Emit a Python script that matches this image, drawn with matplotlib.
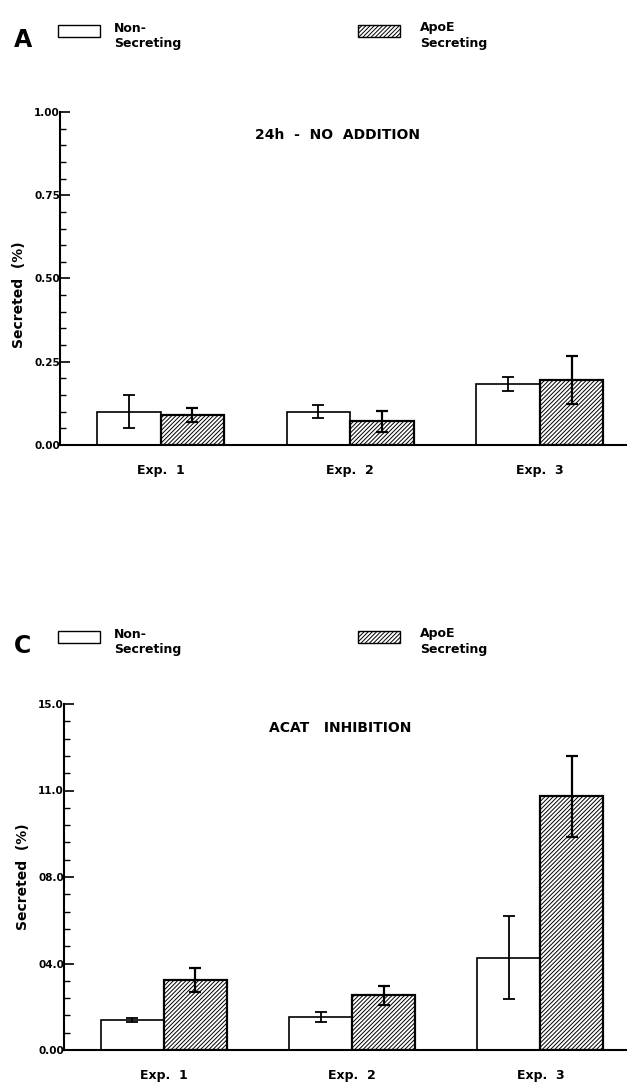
import numpy as np
import matplotlib
matplotlib.use('Agg')
import matplotlib.pyplot as plt
from matplotlib.patches import Rectangle
from matplotlib.ticker import MultipleLocator, FixedLocator

plt.rcParams['font.family'] = ['DejaVu Sans']
plt.rcParams['font.weight'] = 'bold'
plt.rcParams['hatch.linewidth'] = 0.7

# data
experiments = ['Exp.  1', 'Exp.  2', 'Exp.  3']

# panel A: 24h - no addition
a_non = [0.10, 0.10, 0.183]
a_non_err = [0.05, 0.02, 0.02]
a_apoe = [0.09, 0.071, 0.195]
a_apoe_err = [0.022, 0.032, 0.072]

# panel C: ACAT inhibition
c_non = [1.30, 1.43, 4.0]
c_non_err = [0.07, 0.22, 1.8]
c_apoe = [3.02, 2.37, 11.0]
c_apoe_err = [0.52, 0.40, 1.75]

a_ticks = [0, 0.25, 0.5, 0.75, 1.0]
a_ticklabels = ['0.00', '0.25', '0.50', '0.75', '1.00']
c_ticks = [0, 3.75, 7.5, 11.25, 15.0]
c_ticklabels = ['0.00', '04.0', '08.0', '11.0', '15.0']

W, H = 627, 1087
fig = plt.figure(figsize=(W / 100, H / 100), dpi=100)


def px(x0, y0, x1, y1):
    # pixel box (top-left origin) -> figure fraction [l, b, w, h]
    return [x0 / W, 1 - y1 / H, (x1 - x0) / W, (y1 - y0) / H]


def panel(rect, non, non_err, apoe, apoe_err, ymax, ticks, ticklabels,
          minor, title, ylab_y):
    ax = fig.add_axes(rect)
    x = np.arange(len(experiments))
    width = 0.335
    ax.bar(x - width / 2, non, width, color='white', edgecolor='black',
           linewidth=1.2, zorder=2)
    ax.bar(x + width / 2, apoe, width, color='white', edgecolor='black',
           hatch='////////', linewidth=1.6, zorder=2)
    ax.errorbar(x - width / 2, non, yerr=non_err, fmt='none', ecolor='black',
                elinewidth=1.3, capsize=4, capthick=1.3, zorder=3)
    ax.errorbar(x + width / 2, apoe, yerr=apoe_err, fmt='none', ecolor='black',
                elinewidth=1.6, capsize=4, capthick=1.6, zorder=3)
    ax.set_xlim(-0.53, 2.46)
    ax.set_ylim(0, ymax)
    for s in ['top', 'right']:
        ax.spines[s].set_visible(False)
    ax.spines['left'].set_linewidth(1.5)
    ax.spines['bottom'].set_linewidth(1.5)
    ax.yaxis.set_major_locator(FixedLocator(ticks))
    ax.set_yticklabels(ticklabels, fontsize=7.5, fontweight='bold')
    ax.yaxis.set_minor_locator(MultipleLocator(minor))
    ax.tick_params(axis='y', which='major', direction='in', length=7,
                   width=1.2, pad=0)
    ax.tick_params(axis='y', which='minor', direction='in', length=4,
                   width=1.0)
    ax.set_xticks(x)
    ax.set_xticklabels(experiments, fontsize=9, fontweight='bold')
    ax.tick_params(axis='x', length=0, pad=14)
    ax.set_ylabel('Secreted  (%)', fontsize=10, fontweight='bold')
    ax.yaxis.set_label_coords(-0.06, ylab_y)
    ax.text(0.49, 0.93, title, transform=ax.transAxes, ha='center',
            va='center', fontsize=10, fontweight='bold')
    return ax


def legend(letter, top):
    fig.text(14 / W, 1 - (top + 16) / H, letter, fontsize=17,
             fontweight='bold', va='center', ha='left')
    fig.add_artist(Rectangle((58 / W, 1 - (top + 13) / H), 42 / W, 12 / H,
                             transform=fig.transFigure, facecolor='white',
                             edgecolor='black', linewidth=1.0))
    fig.add_artist(Rectangle((358 / W, 1 - (top + 13) / H), 42 / W, 12 / H,
                             transform=fig.transFigure, facecolor='white',
                             edgecolor='black', hatch='////////',
                             linewidth=1.0))
    fig.text(114 / W, 1 - (top + 4) / H, 'Non-', fontsize=9,
             fontweight='bold', va='center')
    fig.text(114 / W, 1 - (top + 19) / H, 'Secreting', fontsize=9,
             fontweight='bold', va='center')
    fig.text(420 / W, 1 - (top + 4) / H, 'ApoE', fontsize=9,
             fontweight='bold', va='center')
    fig.text(420 / W, 1 - (top + 19) / H, 'Secreting', fontsize=9,
             fontweight='bold', va='center')


panel(px(60, 112, 627, 445), a_non, a_non_err, a_apoe, a_apoe_err,
      1.0, a_ticks, a_ticklabels, 0.05, '24h  -  NO  ADDITION', 0.45)
panel(px(64, 704, 627, 1050), c_non, c_non_err, c_apoe, c_apoe_err,
      15.0, c_ticks, c_ticklabels, 0.75, 'ACAT   INHIBITION', 0.5)

legend('A', 24)
legend('C', 630)

fig.savefig('out.png', dpi=100)
